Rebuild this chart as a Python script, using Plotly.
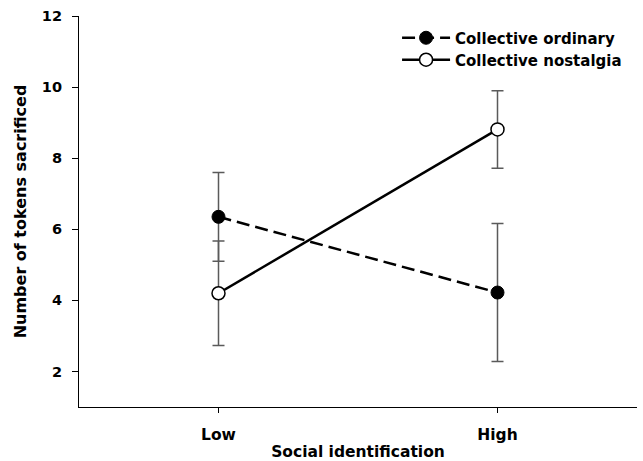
import plotly.graph_objects as go

categories = ["Low", "High"]
x_pos = [1, 2]
ordinary_mean = [6.35, 4.22]
ordinary_err = [1.25, 1.94]
nostalgia_mean = [4.20, 8.81]
nostalgia_err = [1.47, 1.09]
y_ticks = [2, 4, 6, 8, 10, 12]

FONT = "DejaVu Sans, sans-serif"
ERR_COLOR = "#5a5a5a"

fig = go.Figure()
fig.add_trace(go.Scatter(
    x=x_pos, y=ordinary_mean, name="Collective ordinary",
    mode="lines+markers",
    line=dict(color="black", width=2.5, dash="13px,6px"),
    marker=dict(size=13, color="black", line=dict(color="black", width=1)),
    error_y=dict(type="data", array=ordinary_err, color=ERR_COLOR, thickness=1.5, width=6),
    legend="legend",
))
fig.add_trace(go.Scatter(
    x=x_pos, y=nostalgia_mean, name="Collective nostalgia",
    mode="lines+markers",
    line=dict(color="black", width=2.5),
    marker=dict(size=13, color="white", line=dict(color="black", width=1.5)),
    error_y=dict(type="data", array=nostalgia_err, color=ERR_COLOR, thickness=1.5, width=6),
    legend="legend2",
))

leg_common = dict(
    xanchor="left", yanchor="middle",
    bgcolor="rgba(0,0,0,0)", borderwidth=0,
    font=dict(family=FONT, size=15, color="black", weight="bold"),
    itemwidth=48,
)

fig.update_layout(
    width=643, height=461,
    margin=dict(l=79, r=6, t=16, b=54, autoexpand=False),
    plot_bgcolor="white", paper_bgcolor="white",
    font=dict(family=FONT, size=14, color="black"),
    showlegend=True,
    legend=dict(x=0.570, y=0.9437, **leg_common),
    legend2=dict(x=0.570, y=0.8875, **leg_common),
    xaxis=dict(
        range=[0.5, 2.5], tickmode="array", tickvals=x_pos, ticktext=categories,
        showline=True, linecolor="black", linewidth=1.2, mirror=False,
        ticks="outside", ticklen=5, tickcolor="black", tickwidth=1,
        showgrid=False, zeroline=False, automargin=False,
        ticklabelstandoff=8,
        tickfont=dict(family=FONT, size=15.5, weight="bold"),
        title=dict(text="Social identification", standoff=6,
                   font=dict(family=FONT, size=15.5, weight="bold")),
    ),
    yaxis=dict(
        range=[1, 12], tickmode="array", tickvals=y_ticks,
        showline=True, linecolor="black", linewidth=1.2, mirror=False,
        ticks="outside", ticklen=6, tickcolor="black", tickwidth=1,
        showgrid=False, zeroline=False, automargin=False,
        ticklabelstandoff=7,
        tickfont=dict(family=FONT, size=14.5, weight="bold"),
        title=dict(text="Number of tokens sacrificed", standoff=11,
                   font=dict(family=FONT, size=16, weight="bold")),
    ),
)

fig.write_html("out.html", config={"displayModeBar": False},
               post_script="document.body.style.margin='0';")
